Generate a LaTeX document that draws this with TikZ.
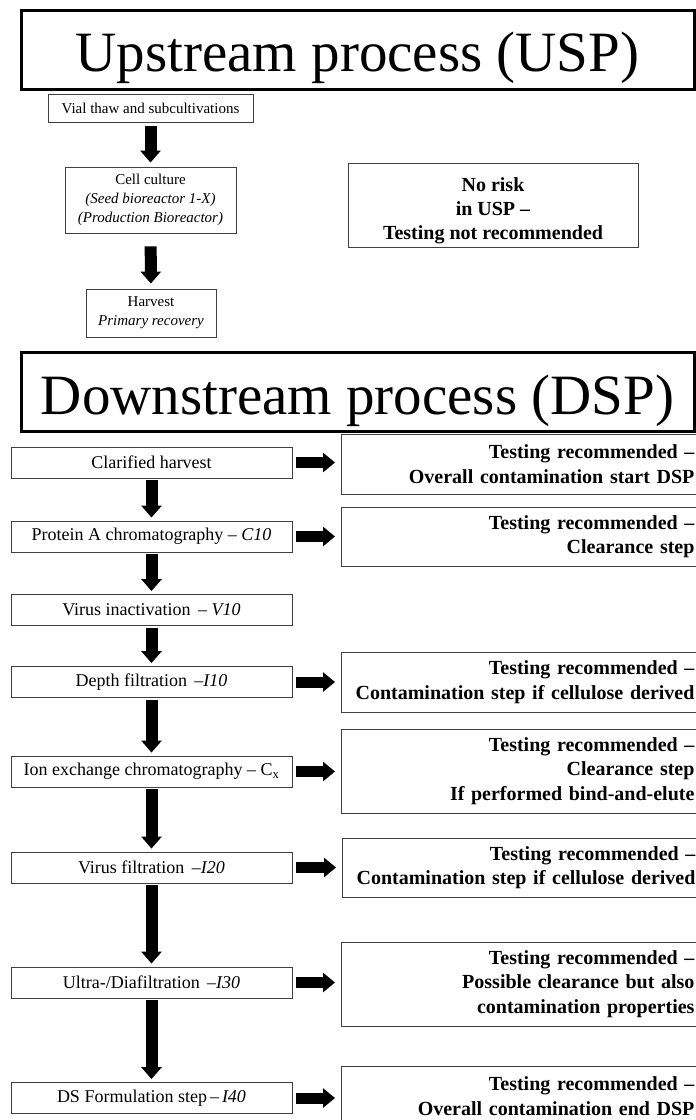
\documentclass[tikz,border=0pt]{standalone}
\usepackage{fontspec}
\setmainfont{Liberation Serif}
\usetikzlibrary{arrows.meta}

\begin{document}
\begin{tikzpicture}[x=1pt, y=-1pt,
    titlebox/.style={draw, line width=3pt, minimum width=673pt, minimum height=79pt, inner sep=0pt, text height=52pt, text depth=8pt, font=\fontsize{57}{60}\selectfont},
    uspbox/.style={draw=black!75, line width=0.9pt, align=center, inner sep=0pt, font=\fontsize{15}{19}\selectfont},
    stepbox/.style={draw=black!75, line width=0.9pt, minimum width=281pt, minimum height=31pt, inner sep=0pt, font=\fontsize{18}{21}\selectfont},
    riskbox/.style={draw=black!75, line width=0.9pt, anchor=west, text width=346pt, align=right, inner xsep=7pt, inner ysep=0pt, font=\bfseries\fontsize{20}{24.5}\selectfont},
    downarrow/.style={line width=12pt, -{Triangle[width=20pt, length=12pt]}, shorten <=2pt, shorten >=3pt},
    rightarrow/.style={line width=11pt, -{Triangle[width=19pt, length=12pt]}, shorten <=4pt, shorten >=6pt}
]
    \useasboundingbox (0,0) rectangle (696,1120);
    \clip (0,0) rectangle (696,1120);

    % Upstream part
    \node[titlebox] (usp) at (357.5,49.5) {Upstream process (USP)};
    \node[uspbox, minimum width=205pt, minimum height=28pt] (vial) at (150.5,108) {Vial thaw and subcultivations};
    \node[uspbox, minimum width=171pt, minimum height=66pt] (cell) at (150.5,200)
        {Cell culture\\ \textit{(Seed bioreactor 1-X)}\\ \textit{(Production Bioreactor)}};
    \node[uspbox, minimum width=130pt, minimum height=48pt] (harv) at (151,313) {Harvest\\ \textit{Primary recovery}};
    \node[uspbox, minimum width=290pt, minimum height=84pt, font=\bfseries\fontsize{20}{24}\selectfont] (norisk) at (493,205)
        {\rule{0pt}{26pt}No risk\\ in USP –\\ Testing not recommended};

    \draw[downarrow, shorten <=4pt, shorten >=4pt] (vial) -- (cell);
    \draw[downarrow, shorten <=13pt, shorten >=5pt] (cell) -- (harv);

    % Downstream part
    \node[titlebox] (dsp) at (357.5,392) {Downstream process (DSP)};

    % process steps
    \node[stepbox] (clar) at (151.5,462.5) {Clarified harvest};
    \node[stepbox] (prot) at (151.5,536.5) {Protein A chromatography – \textit{C10}};
    \node[stepbox] (vina) at (151.5,610) {Virus inactivation \,– \textit{V10}};
    \node[stepbox] (depth) at (151.5,682) {Depth filtration \,–\textit{I10}};
    \node[stepbox] (iex) at (151.5,771.5) {Ion exchange chromatography – C\textsubscript{x}};
    \node[stepbox] (vfil) at (151.5,867.5) {Virus filtration \,–\textit{I20}};
    \node[stepbox] (udf) at (151.5,982.5) {Ultra-/Diafiltration \,–\textit{I30}};
    \node[stepbox] (form) at (151.5,1098) {DS Formulation step\,–\,\textit{I40}};

    % testing boxes
    \node[riskbox, minimum height=60pt] (rclar) at (341,464) {Testing recommended –\\ Overall contamination start DSP};
    \node[riskbox, minimum height=59pt] (rprot) at (341,536.5) {Testing recommended –\\ Clearance step};
    \node[riskbox, minimum height=60pt] (rdepth) at (341,682) {Testing recommended –\\ Contamination step if cellulose derived};
    \node[riskbox, minimum height=84pt] (riex) at (341,771) {Testing recommended –\\ Clearance step\\ If performed bind-and-elute};
    \node[riskbox, minimum height=59pt] (rvfil) at (342,867.5) {Testing recommended –\\ Contamination step if cellulose derived};
    \node[riskbox, minimum height=84pt] (rudf) at (341,984) {Testing recommended –\\ Possible clearance but also\\ contamination properties};
    \node[riskbox, minimum height=60pt] (rform) at (341,1096) {Testing recommended –\\ Overall contamination end DSP};

    % arrows down the chain
    \draw[downarrow] (clar) -- (prot);
    \draw[downarrow] (prot) -- (vina);
    \draw[downarrow] (vina) -- (depth);
    \draw[downarrow] (depth) -- (iex);
    \draw[downarrow] (iex) -- (vfil);
    \draw[downarrow] (vfil) -- (udf);
    \draw[downarrow] (udf) -- (form);

    % arrows to the testing boxes
    \foreach \s/\r in {clar/rclar, prot/rprot, depth/rdepth, iex/riex, vfil/rvfil, udf/rudf, form/rform} {
        \draw[rightarrow] (\s.east) -- (\s.east -| \r.west);
    }
\end{tikzpicture}
\end{document}
